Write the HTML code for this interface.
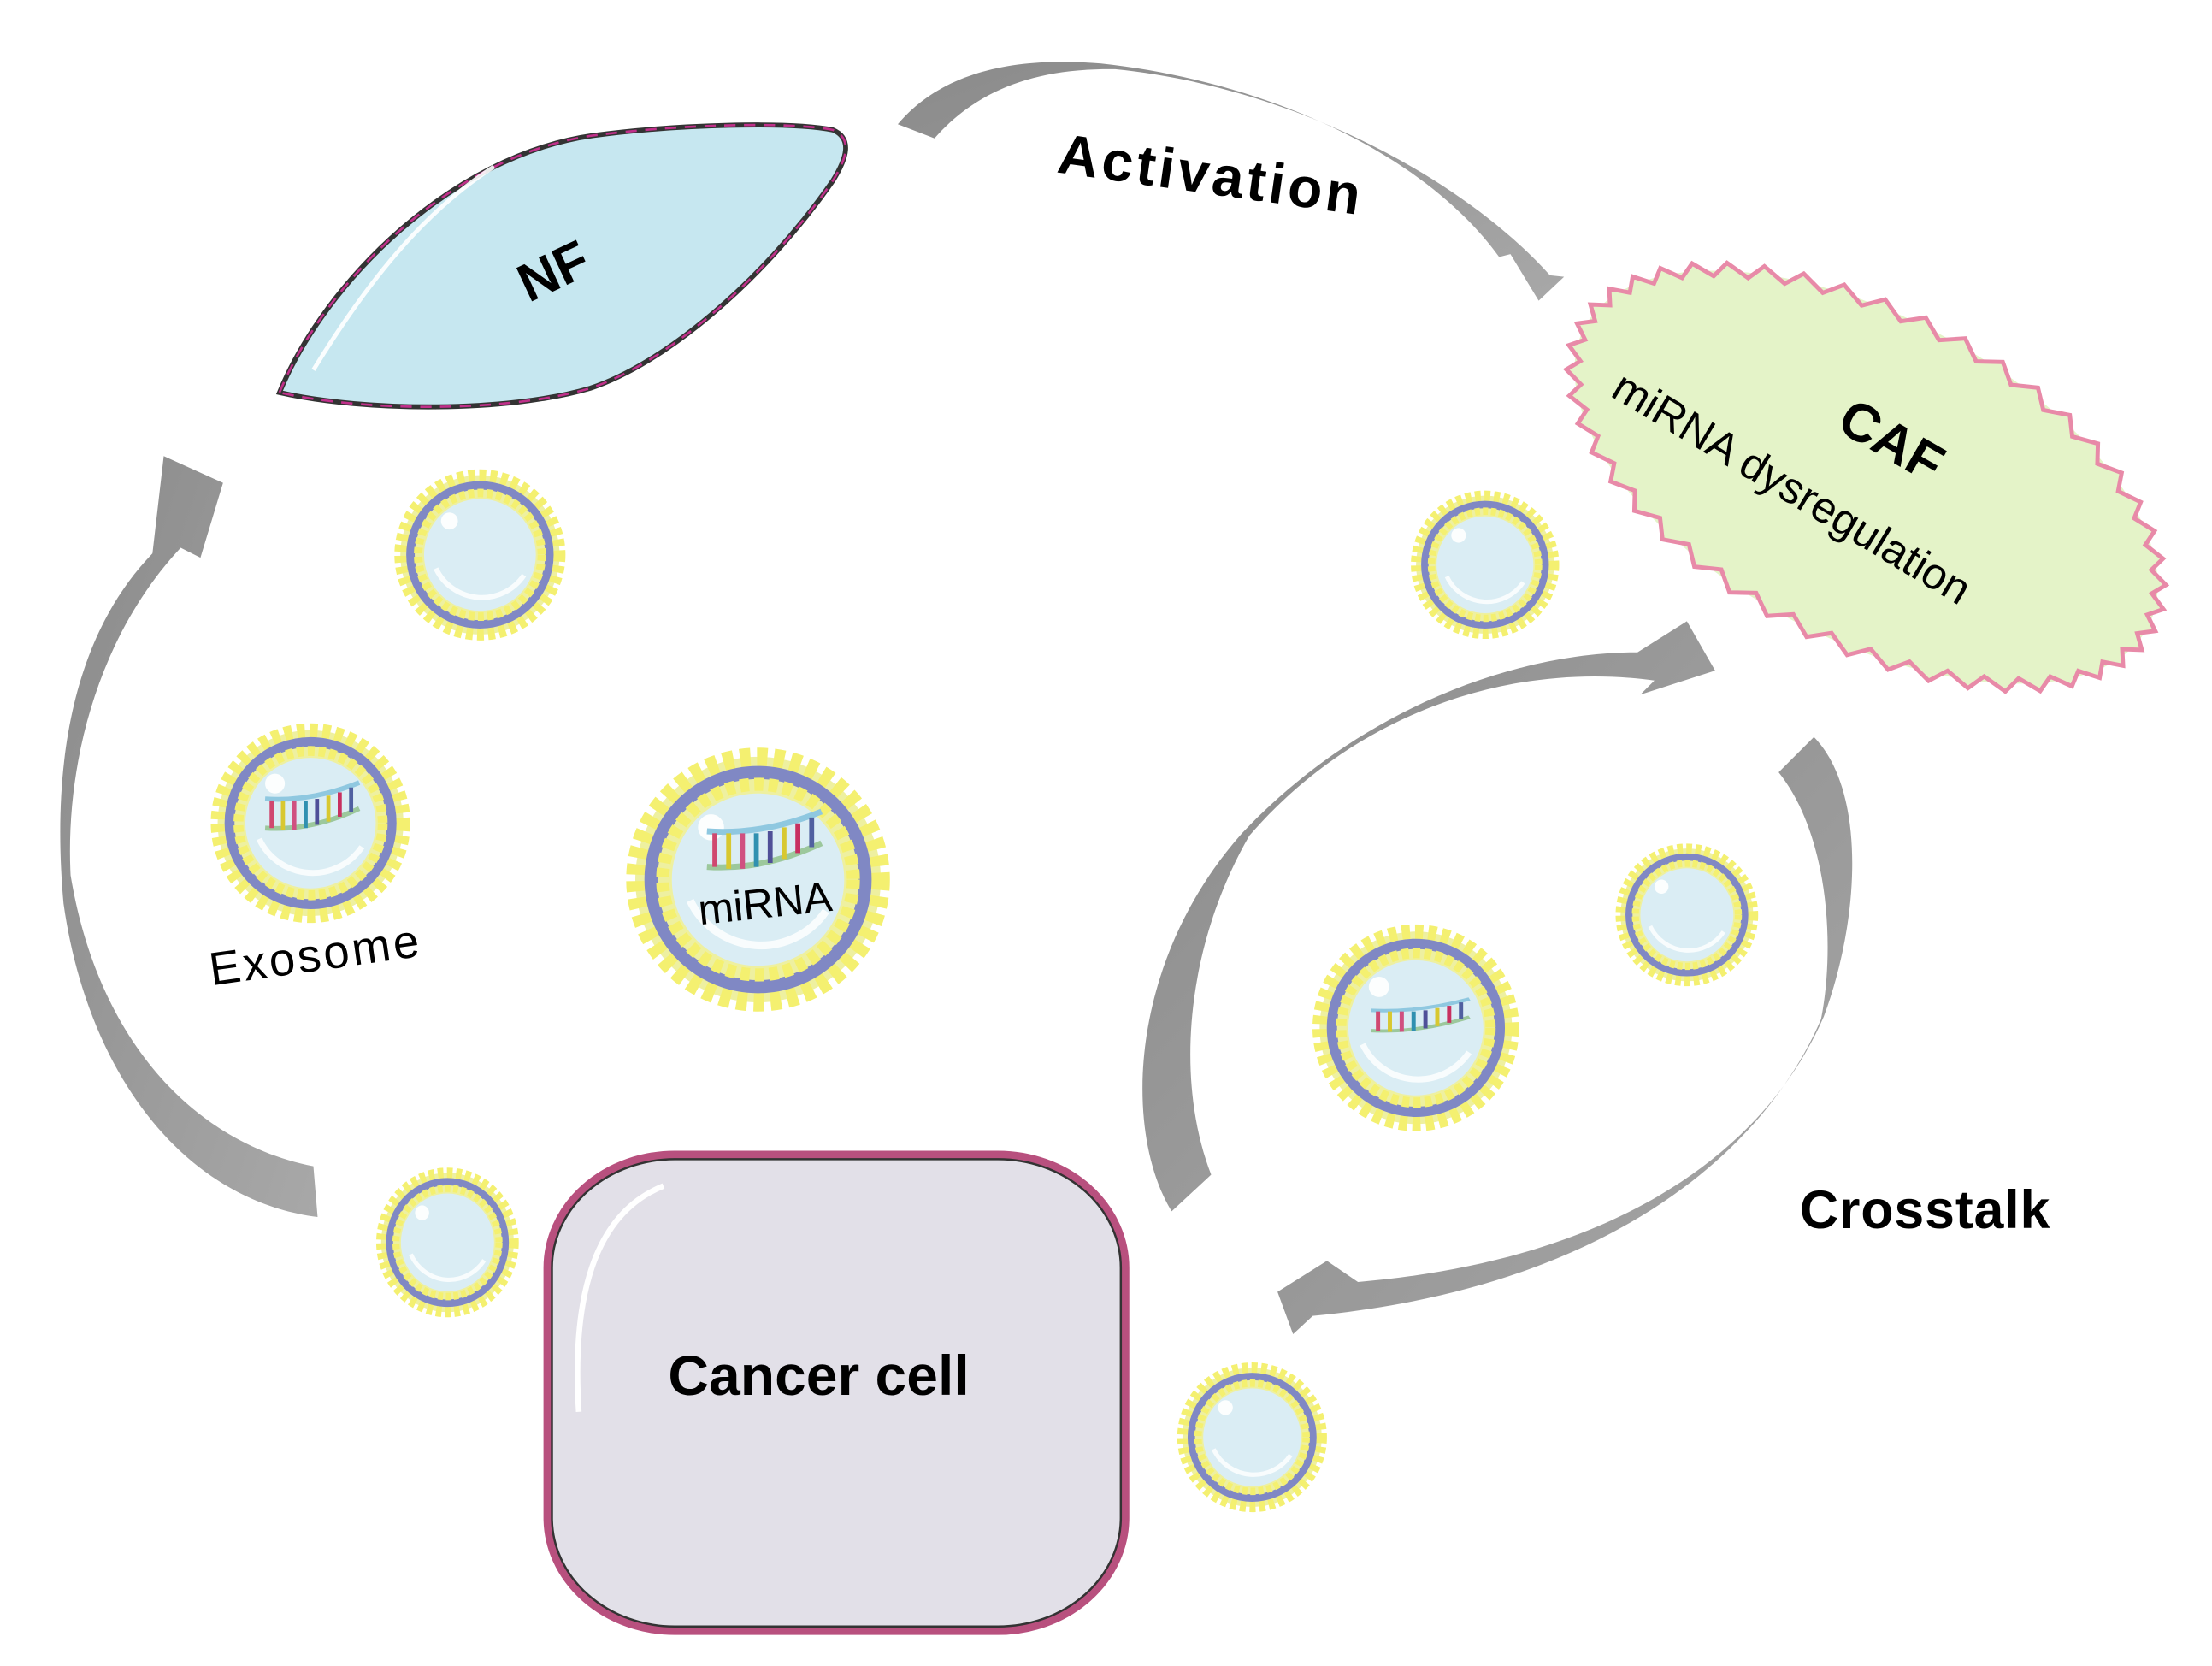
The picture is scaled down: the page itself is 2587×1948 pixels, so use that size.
<!DOCTYPE html>
<html><head><meta charset="utf-8"><style>
html,body{margin:0;padding:0;background:#fff;}
svg{display:block;}
text{font-family:"Liberation Sans",sans-serif;}
</style></head><body>
<svg id="s" width="2587" height="1948" viewBox="0 0 1567 1180" preserveAspectRatio="none" xmlns="http://www.w3.org/2000/svg">
<defs>
<linearGradient id="ga" x1="0" y1="0" x2="1" y2="1"><stop offset="0" stop-color="#8a8a8a"/><stop offset="1" stop-color="#a8a8a8"/></linearGradient>
<g id="exo">
<circle r="47" fill="#eef0a0"/>
<circle r="47" fill="none" stroke="#f4f070" stroke-width="7" stroke-dasharray="4 2.5"/>
<circle r="41" fill="none" stroke="#8088c4" stroke-width="5"/>
<circle r="36.5" fill="none" stroke="#f4f070" stroke-width="5" stroke-dasharray="3.5 2"/>
<circle r="33" fill="#daedf4"/>
<path d="M-26,8 A30,30 0 0 0 26,12" stroke="#fff" stroke-width="3" fill="none" opacity="0.8"/>
<circle cx="-18" cy="-20" r="5" fill="#fff" opacity="0.9"/>
</g>
<g id="rna">
<path d="M-28,-8 Q0,-6 30,-18" stroke="#8fc8e0" stroke-width="3" fill="none"/>
<path d="M-28,10 Q0,12 30,-2" stroke="#9cc89c" stroke-width="3" fill="none"/>
<line x1="-24" y1="-7" x2="-24" y2="10" stroke="#d04870" stroke-width="2.5"/>
<line x1="-17" y1="-7" x2="-17" y2="11" stroke="#d8c830" stroke-width="2.5"/>
<line x1="-10" y1="-7" x2="-10" y2="11" stroke="#d05080" stroke-width="2.5"/>
<line x1="-3" y1="-7" x2="-3" y2="10" stroke="#3090b0" stroke-width="2.5"/>
<line x1="4" y1="-8" x2="4" y2="8" stroke="#505098" stroke-width="2.5"/>
<line x1="11" y1="-10" x2="11" y2="6" stroke="#d8c830" stroke-width="2.5"/>
<line x1="18" y1="-12" x2="18" y2="3" stroke="#c83060" stroke-width="2.5"/>
<line x1="25" y1="-15" x2="25" y2="0" stroke="#5060a0" stroke-width="2.5"/>
</g>
</defs>

<path d="M636,88 C668,50 720,40 780,45 C900,58 1010,110 1062,182 L1070,180 L1090,213 L1108,196 L1098,195 C1040,130 920,62 790,49 C730,48 690,66 662,98 Z" fill="url(#ga)"/>
<path d="M222,826 L225,862 C130,850 62,760 45,640 C36,540 52,450 108,392 L116,323 L158,342 L142,395 L128,388 C70,450 46,540 50,620 C70,740 140,810 222,826 Z" fill="url(#ga)"/>
<path d="M830,858 C795,800 800,680 880,590 C960,505 1070,462 1160,462 L1195,440 L1215,475 L1162,492 L1172,482 C1070,468 960,505 885,592 C840,670 832,765 858,832 Z" fill="url(#ga)"/>
<path d="M1285,522 C1322,560 1318,650 1292,720 C1252,812 1150,892 962,908 L940,893 L905,915 L916,945 L930,932 C1140,912 1250,815 1290,722 C1300,672 1296,592 1260,547 Z" fill="url(#ga)"/>

<path d="M198,278 C230,200 320,110 420,96 C480,88 560,86 590,92 C604,98 600,112 590,128 C540,200 470,258 418,275 C360,292 260,292 198,278 Z" fill="#c6e7f0" stroke="#333" stroke-width="3.5"/>
<path d="M198,278 C230,200 320,110 420,96 C480,88 560,86 590,92 C604,98 600,112 590,128 C540,200 470,258 418,275 C360,292 260,292 198,278 Z" fill="none" stroke="#c0308a" stroke-width="1.6" stroke-dasharray="8 6"/>
<path d="M222,262 C260,200 300,150 350,118" stroke="#fff" stroke-width="3" fill="none" opacity="0.9"/>
<text x="392" y="205" font-size="38" font-weight="bold" text-anchor="middle" transform="rotate(-25 392 192)">NF</text>

<text x="748" y="122" font-size="40" font-weight="bold" letter-spacing="2.5" transform="rotate(8 748 122)">Activation</text>

<ellipse cx="1322" cy="338" rx="226" ry="114" transform="rotate(28 1322 338)" fill="#e4f3c8"/>
<path id="caf" d="" fill="#e4f3c8" stroke="#e88aa8" stroke-width="3"/>
<text x="1340" y="325" font-size="38" font-weight="bold" text-anchor="middle" transform="rotate(30 1340 312)">CAF</text>
<text x="1140" y="280" font-size="31" transform="rotate(31 1140 280)">miRNA dysregulation</text>

<use href="#exo" transform="translate(340,393) scale(1.2)"/>
<use href="#exo" transform="translate(1052,400) scale(1.04)"/>
<use href="#exo" transform="translate(220,583) scale(1.4)"/>
<use href="#rna" transform="translate(220,575) scale(1.15)"/>
<use href="#exo" transform="translate(537,623) scale(1.85)"/>
<use href="#rna" transform="translate(540,600) scale(1.4)"/>
<text x="543" y="650" font-size="30" text-anchor="middle" transform="rotate(-6 543 650)">miRNA</text>
<use href="#exo" transform="translate(1003,728) scale(1.45)"/>
<use href="#rna" transform="translate(1005,722) scale(1.2,0.8)"/>
<use href="#exo" transform="translate(1195,648) scale(1.0)"/>
<use href="#exo" transform="translate(317,880) scale(1.0,1.05)"/>
<use href="#exo" transform="translate(887,1018) scale(1.05)"/>

<text x="150" y="698" font-size="33" letter-spacing="2" transform="rotate(-8 150 698)">Exosome</text>

<rect x="388" y="818" width="409" height="337" rx="90" ry="80" fill="#e2e0e8" stroke="#b8507e" stroke-width="6"/>
<rect x="391" y="821" width="403" height="331" rx="87" ry="77" fill="none" stroke="#333" stroke-width="1.5"/>
<path d="M410,1000 C405,920 420,860 470,840" stroke="#fff" stroke-width="4" fill="none"/>
<text x="580" y="988" font-size="40" font-weight="bold" text-anchor="middle">Cancer cell</text>

<text x="1275" y="870" font-size="38" font-weight="bold" letter-spacing="0.5">Crosstalk</text>
</svg>
<script>
(function(){
var cx=1322,cy=338,rx=224,ry=112,a=28*Math.PI/180,n=46,d="";
for(var i=0;i<n*2;i++){
 var t=i/(n*2)*2*Math.PI;
 var k=(i%2==0)?8:-2;
 var x=(rx+k)*Math.cos(t), y=(ry+k)*Math.sin(t);
 var X=cx+x*Math.cos(a)-y*Math.sin(a), Y=cy+x*Math.sin(a)+y*Math.cos(a);
 d+=(i==0?"M":"L")+X.toFixed(1)+","+Y.toFixed(1);
}
document.getElementById("caf").setAttribute("d",d+"Z");
})();
</script>
</body></html>
